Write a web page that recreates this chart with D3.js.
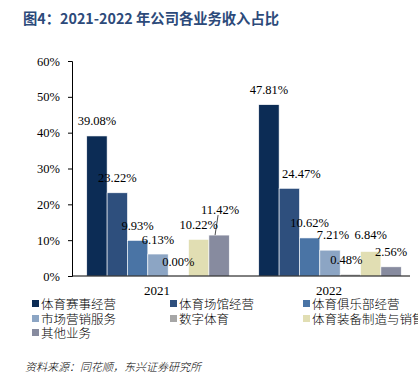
<!DOCTYPE html>
<html>
<head>
<meta charset="utf-8">
<script src="https://cdn.jsdelivr.net/npm/d3@7"></script>
<style>
  body { margin: 0; background: #fff; }
  svg { display: block; }
</style>
</head>
<body>
<svg id="chart" width="418" height="376"></svg>
<script>
// data
const years = ["2021", "2022"];
const businesses = ["体育赛事经营", "体育场馆经营", "体育俱乐部经营", "市场营销服务", "数字体育", "体育装备制造与销售", "其他业务"];
const share2021 = [39.08, 23.22, 9.93, 6.13, 0.00, 10.22, 11.42];
const share2022 = [47.81, 24.47, 10.62, 7.21, 0.48, 6.84, 2.56];
const yTicks = [0, 10, 20, 30, 40, 50, 60];

const colors = ["#0c2c55", "#2e4f7d", "#4a74a5", "#8ca5c4", "#a6a6a6", "#e1deb3", "#878b9f"];

let svg = d3.select("#chart");
const serif = "'Liberation Serif', 'Times New Roman', serif";
const cjk = "'Noto Sans CJK SC', sans-serif";

// title
svg.append("text")
   .attr("x", 23).attr("y", 24)
   .attr("font-family", cjk)
   .attr("font-weight", "bold")
   .attr("font-size", 14.3)
   .attr("fill", "#2c4a7a")
   .text("图4：2021-2022 年公司各业务收入占比");

// scales
let x0 = d3.scaleBand().domain(years).range([72, 416]);
let x1 = d3.scaleBand().domain(businesses).range([14.75, 157.25]);
let y = d3.scaleLinear().domain([0, 60]).range([276, 61]);

// y axis
let yAxis = svg.append("g")
   .attr("transform", "translate(72,0)")
   .call(d3.axisLeft(y).tickValues(yTicks).tickSize(4).tickFormat(function (d) { return d + "%"; }));
yAxis.select(".domain").attr("stroke", "#000");
yAxis.selectAll("line").attr("stroke", "#000");
yAxis.selectAll("text")
   .attr("font-family", serif)
   .attr("font-size", 12.5)
   .attr("fill", "#000")
   .attr("x", -12);

// bars
let series = [share2021, share2022];
years.forEach(function (yr, gi) {
  let g = svg.append("g").attr("transform", "translate(" + x0(yr) + ",0)");
  g.selectAll("rect").data(series[gi]).enter().append("rect")
   .attr("x", function (d, i) { return x1(businesses[i]); })
   .attr("y", function (d) { return y(d); })
   .attr("width", x1.bandwidth())
   .attr("height", function (d) { return y(0) - y(d); })
   .attr("fill", function (d, i) { return colors[i]; })
   .attr("stroke", "#ffffff")
   .attr("stroke-width", 0.6);

  // label nudges (layout only)
  let nudge = gi === 0
    ? [[0, 0], [0, 0], [0, 0], [0, 0], [0, 0], [0, 0], [1, -11]]
    : [[0, 0], [12, 0], [0, 0], [3, -1], [-4, 0], [0, -2], [0, 0]];

  g.selectAll(".val").data(series[gi]).enter().append("text")
   .attr("class", "val")
   .attr("x", function (d, i) { return x1(businesses[i]) + x1.bandwidth() / 2 + nudge[i][0]; })
   .attr("y", function (d, i) { return y(d) - 10.5 + nudge[i][1]; })
   .attr("text-anchor", "middle")
   .attr("font-family", serif)
   .attr("font-size", 12.5)
   .attr("fill", "#000")
   .text(function (d) { return d.toFixed(2) + "%"; });

  // leader line for the raised label
  if (gi === 0) {
    let cx = x1(businesses[6]) + x1.bandwidth() / 2;
    g.append("line")
     .attr("x1", cx - 1).attr("y1", y(share2021[6]) - 20)
     .attr("x2", cx - 4).attr("y2", y(share2021[6]))
     .attr("stroke", "#000").attr("stroke-width", 0.7);
  }
});

// x axis line and category labels
svg.append("line")
   .attr("x1", 72).attr("x2", 410)
   .attr("y1", y(0)).attr("y2", y(0))
   .attr("stroke", "#000").attr("stroke-width", 1);

svg.selectAll(".cat").data(years).enter().append("text")
   .attr("class", "cat")
   .attr("x", function (d) { return x0(d) + x0.bandwidth() / 2 - 1; })
   .attr("y", 295)
   .attr("text-anchor", "middle")
   .attr("font-family", serif)
   .attr("font-size", 13)
   .text(function (d) { return d; });

// legend
const legX = [32, 170, 303];
const legY = [304, 319, 333];
let leg = svg.selectAll(".leg").data(businesses).enter().append("g")
   .attr("class", "leg")
   .attr("transform", function (d, i) { return "translate(" + legX[i % 3] + "," + legY[Math.floor(i / 3)] + ")"; });
leg.append("rect")
   .attr("x", 0).attr("y", -4)
   .attr("width", 7).attr("height", 7)
   .attr("fill", function (d, i) { return colors[i]; });
leg.append("text")
   .attr("x", 9).attr("y", 4.5)
   .attr("font-family", cjk)
   .attr("font-weight", 300)
   .attr("font-size", 12.5)
   .attr("fill", "#000")
   .text(function (d) { return d; });

// source
svg.append("text")
   .attr("x", 25).attr("y", 371)
   .attr("font-family", cjk)
   .attr("font-style", "italic")
   .attr("font-weight", 300)
   .attr("font-size", 11)
   .attr("fill", "#000")
   .text("资料来源：同花顺，东兴证券研究所");
</script>
</body>
</html>
